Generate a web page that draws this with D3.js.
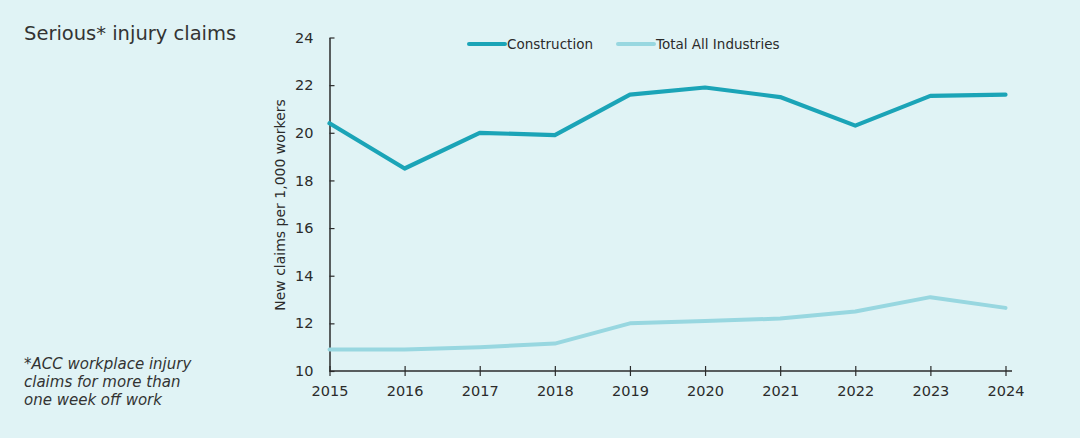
<!DOCTYPE html>
<html>
<head>
<meta charset="utf-8">
<script src="https://cdn.jsdelivr.net/npm/d3@7"></script>
<style>
  body { margin: 0; background: #e0f3f5; }
  svg { display: block; }
</style>
</head>
<body>
<div id="chart"></div>
<script>
let w = 1080; let h = 438;

// data
let years = [2015, 2016, 2017, 2018, 2019, 2020, 2021, 2022, 2023, 2024];
let construction = [20.4, 18.5, 20.0, 19.9, 21.6, 21.9, 21.5, 20.3, 21.55, 21.6];
let allIndustries = [10.9, 10.9, 11.0, 11.15, 12.0, 12.1, 12.2, 12.5, 13.1, 12.65];
let yTicks = [10, 12, 14, 16, 18, 20, 22, 24];
let seriesNames = ["Construction", "Total All Industries"];

let colConstruction = "#1ba4b7";
let colTotal = "#98d7e0";
let ink = "#2b2b2b";
let font = "'DejaVu Sans', sans-serif";

let svg = d3.select("#chart").append("svg")
  .attr("width", w).attr("height", h);

svg.append("rect").attr("width", w).attr("height", h).attr("fill", "#e0f3f5");

let xScale = d3.scaleLinear().domain([2015, 2024]).range([329.5, 1005.5]);
let yScale = d3.scaleLinear().domain([10, 24]).range([371, 37.5]);

//title and footnote
svg.append("text")
  .attr("x", 24).attr("y", 40)
  .attr("font-family", font)
  .attr("font-size", "19.5px")
  .attr("fill", "#333")
  .text("Serious* injury claims");

let foot = ["*ACC workplace injury", "claims for more than", "one week off work"];
svg.append("g").selectAll("text").data(foot).enter().append("text")
  .attr("x", 24)
  .attr("y", (d, i) => 369 + i * 18)
  .attr("font-family", font)
  .attr("font-style", "italic")
  .attr("font-size", "15px")
  .attr("fill", "#333")
  .text(d => d);

//axes
let yAxis = svg.append("g")
  .attr("transform", "translate(329.5, 0)")
  .call(d3.axisRight(yScale).tickValues(yTicks).tickSize(5).tickSizeOuter(0));
yAxis.select(".domain").attr("stroke", ink).attr("stroke-width", 1.5);
yAxis.selectAll(".tick line").attr("stroke", ink).attr("stroke-width", 1.2);
yAxis.selectAll(".tick text")
  .attr("x", -16).attr("text-anchor", "end")
  .attr("font-family", font)
  .attr("font-size", "14.5px")
  .attr("fill", ink);

let xAxis = svg.append("g")
  .attr("transform", "translate(0, 371)")
  .call(d3.axisBottom(xScale).tickValues(years).tickFormat(d3.format("d")).tickSize(5).tickSizeOuter(0));
xAxis.select(".domain").attr("d", "M329.5,0H1012").attr("stroke", ink).attr("stroke-width", 1.5);
xAxis.selectAll(".tick line").attr("y1", -5).attr("y2", 5).attr("stroke", ink).attr("stroke-width", 1.2);
xAxis.selectAll(".tick text")
  .attr("y", 15)
  .attr("font-family", font)
  .attr("font-size", "14.5px")
  .attr("fill", ink);

svg.append("text")
  .attr("transform", "translate(285, 205) rotate(-90)")
  .attr("text-anchor", "middle")
  .attr("font-family", font)
  .attr("font-size", "14px")
  .attr("fill", ink)
  .text("New claims per 1,000 workers");

//lines
let line = d3.line()
  .x((d, i) => xScale(years[i]))
  .y(d => yScale(d));

svg.append("path").datum(allIndustries)
  .attr("d", line)
  .attr("fill", "none")
  .attr("stroke", colTotal)
  .attr("stroke-width", 4)
  .attr("stroke-linecap", "round")
  .attr("stroke-linejoin", "round");

svg.append("path").datum(construction)
  .attr("d", line)
  .attr("fill", "none")
  .attr("stroke", colConstruction)
  .attr("stroke-width", 4.2)
  .attr("stroke-linecap", "round")
  .attr("stroke-linejoin", "round");

//legend
let legendX = [469, 618];
let legendCol = [colConstruction, colTotal];
let legend = svg.append("g").selectAll("g").data(seriesNames).enter().append("g")
  .attr("transform", (d, i) => "translate(" + legendX[i] + ", 44)");
legend.append("line")
  .attr("x1", 0).attr("x2", 36)
  .attr("stroke", (d, i) => legendCol[i])
  .attr("stroke-width", 4)
  .attr("stroke-linecap", "round");
legend.append("text")
  .attr("x", 38).attr("y", 5)
  .attr("font-family", font)
  .attr("font-size", "13.5px")
  .attr("fill", ink)
  .text(d => d);
</script>
</body>
</html>
